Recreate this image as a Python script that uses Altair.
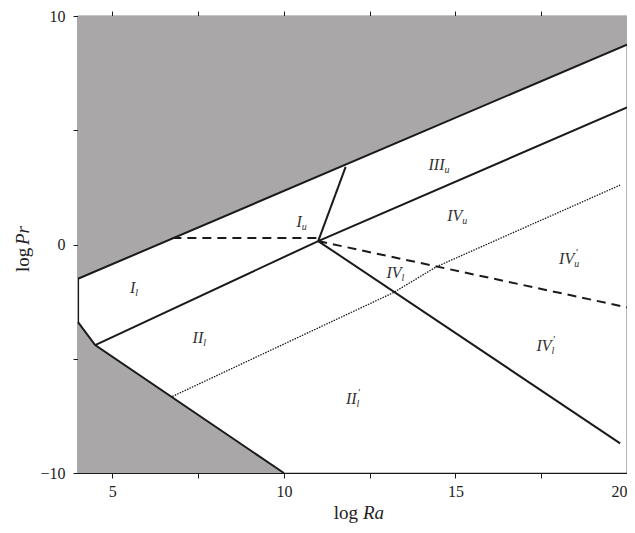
import altair as alt
import pandas as pd

# ---- data ----
XDOM = [4, 20]
YDOM = [-10, 10]

# grey excluded regions (x, lower y, upper y)
upper_x = [4, 20]
upper_y = [-1.5, 8.75]
upper_y2 = [10, 10]
lower_x = [4, 4.5, 10]
lower_y = [-3.4, -4.4, -10]
lower_y2 = [-10, -10, -10]

# solid lines
solid_lines = {
    "upper": ([4, 20], [-1.5, 8.75]),
    "lower": ([4, 4.5, 10], [-3.4, -4.4, -10]),
    "A": ([4.5, 11.0, 20], [-4.4, 0.15, 6.0]),
    "B": ([11.0, 11.8], [0.15, 3.4]),
    "C": ([11.0, 19.8], [0.15, -8.7]),
}
dashed_lines = {
    "D": ([6.75, 11.0], [0.28, 0.28]),
    "E": ([11.0, 20], [0.15, -2.75]),
}
dotted_lines = {
    "F": ([6.75, 13.2, 14.45, 19.8], [-6.65, -2.1, -0.97, 2.6]),
}

label_main = ["I", "II", "I", "III", "IV", "IV", "IV", "IV", "II"]
label_sub = ["l", "l", "u", "u", "u", "l", "u", "l", "l"]
label_prime = ["", "", "", "", "", "", "'", "'", "'"]
label_x = [5.67, 7.65, 10.52, 14.68, 15.2, 13.43, 18.46, 17.8, 12.12]
label_y = [-1.9, -4.1, 1.0, 3.5, 1.26, -1.26, -0.65, -4.45, -6.74]

x_ticks = [5, 7.5, 10, 12.5, 15, 17.5, 20]
y_ticks = [-10, -5, 0, 5, 10]

# ---- frames ----
def seg_df(d):
    rows = []
    for k, (xs, ys) in d.items():
        for i, (a, b) in enumerate(zip(xs, ys)):
            rows.append({"seg": k, "o": i, "x": a, "y": b})
    return pd.DataFrame(rows)

up_df = pd.DataFrame({"x": upper_x, "y": upper_y, "y2": upper_y2})
lo_df = pd.DataFrame({"x": lower_x, "y": lower_y, "y2": lower_y2})
lab_df = pd.DataFrame({"m": label_main, "s": label_sub, "p": label_prime,
                       "x": label_x, "y": label_y})

FONT = "Liberation Serif"
GREY = "#a9a7a8"
INK = "#1a1a1a"

xs = alt.Scale(domain=XDOM, nice=False, zero=False)
ys = alt.Scale(domain=YDOM, nice=False, zero=False)

xaxis = alt.Axis(values=x_ticks, labelExpr="datum.value % 5 == 0 ? datum.label : ''",
                 tickSize=5, labelPadding=5, labelFont=FONT, labelFontSize=16,
                 labelColor="#222", domainColor=INK, tickColor=INK, grid=False, title=None,
                 labelFlush=True)
yaxis = alt.Axis(values=y_ticks, labelExpr="datum.value % 10 == 0 ? datum.label : ''",
                 tickSize=5, labelPadding=8, labelFont=FONT, labelFontSize=16,
                 labelColor="#222", domainColor=INK, tickColor=INK, grid=False, title=None,
                 labelFlush=False)

X = lambda: alt.X("x:Q", scale=xs, axis=xaxis)
Y = lambda: alt.Y("y:Q", scale=ys, axis=yaxis)

up_area = alt.Chart(up_df).mark_area(color=GREY).encode(x=X(), y=Y(), y2="y2")
lo_area = alt.Chart(lo_df).mark_area(color=GREY).encode(x=X(), y=Y(), y2="y2")

solid = alt.Chart(seg_df(solid_lines)).mark_line(color=INK, strokeWidth=2).encode(
    x=X(), y=Y(), detail="seg:N", order="o:Q")
dashed = alt.Chart(seg_df(dashed_lines)).mark_line(color=INK, strokeWidth=2, strokeDash=[9, 6]).encode(
    x=X(), y=Y(), detail="seg:N", order="o:Q")
dotted = alt.Chart(seg_df(dotted_lines)).mark_line(color=INK, strokeWidth=1.3, strokeDash=[1.5, 1.2]).encode(
    x=X(), y=Y(), detail="seg:N", order="o:Q")

lab_main = alt.Chart(lab_df).mark_text(font=FONT, fontStyle="italic", fontSize=16, align="right",
                                       baseline="middle", color="#333").encode(x=X(), y=Y(), text="m:N")
lab_sub = alt.Chart(lab_df).mark_text(font=FONT, fontStyle="italic", fontSize=10, align="left",
                                      baseline="middle", dx=0, dy=5, color="#333").encode(x=X(), y=Y(), text="s:N")
lab_prime = alt.Chart(lab_df).mark_text(font=FONT, fontStyle="italic", fontSize=11, align="left",
                                        baseline="middle", dx=1, dy=-6, color="#333").encode(x=X(), y=Y(), text="p:N")

# axis titles
t_log_x = alt.Chart(pd.DataFrame({"t": ["log"]})).mark_text(font=FONT, fontSize=19, align="right", baseline="middle", color="#222").encode(
    x=alt.value(280), y=alt.value(497), text="t:N")
t_ra = alt.Chart(pd.DataFrame({"t": ["Ra"]})).mark_text(font=FONT, fontSize=19, fontStyle="italic", align="left", baseline="middle", color="#222").encode(
    x=alt.value(285), y=alt.value(497), text="t:N")
t_log_y = alt.Chart(pd.DataFrame({"t": ["log"]})).mark_text(font=FONT, fontSize=19, angle=270, align="left", baseline="middle", color="#222").encode(
    x=alt.value(-55), y=alt.value(256), text="t:N")
t_pr = alt.Chart(pd.DataFrame({"t": ["Pr"]})).mark_text(font=FONT, fontSize=19, fontStyle="italic", angle=270, align="left", baseline="middle", color="#222").encode(
    x=alt.value(-55), y=alt.value(229), text="t:N")

main = alt.layer(up_area, lo_area, solid, dashed, dotted, lab_main, lab_sub, lab_prime,
                 t_log_x, t_ra, t_log_y, t_pr)

top_axis = alt.Chart(pd.DataFrame({"x": upper_x})).mark_point(opacity=0).encode(
    x=alt.X("x:Q", scale=xs, axis=alt.Axis(orient="top", values=x_ticks, labels=False, tickSize=5,
                                           domainColor=INK, tickColor=INK, grid=False, title=None)),
    y=alt.value(0))

chart = alt.layer(main, top_axis).resolve_scale(x="independent").properties(
    width=549, height=457,
    autosize=alt.AutoSizeParams(type="none"),
    padding={"left": 70, "top": 8, "right": 0, "bottom": 55},
).configure_view(stroke=INK, strokeWidth=1.2).configure_axis(domainWidth=1.2)

chart.save("out.html", embed_options={"renderer": "svg", "actions": False})
